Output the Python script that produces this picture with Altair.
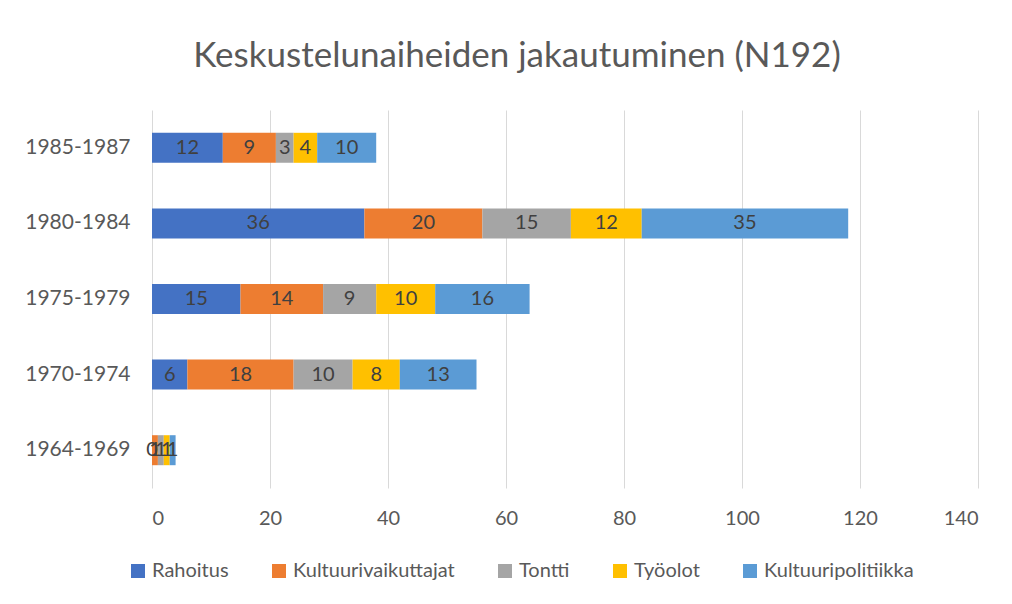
import altair as alt
import pandas as pd

periods = ["1985-1987", "1980-1984", "1975-1979", "1970-1974", "1964-1969"]
series = ["Rahoitus", "Kultuurivaikuttajat", "Tontti", "Työolot", "Kultuuripolitiikka"]
colors = ["#4472C4", "#ED7D31", "#A5A5A5", "#FFC000", "#5B9BD5"]
values = {
    "Rahoitus":            [12, 36, 15, 6, 0],
    "Kultuurivaikuttajat": [9, 20, 14, 18, 1],
    "Tontti":              [3, 15, 9, 10, 1],
    "Työolot":             [4, 12, 10, 8, 1],
    "Kultuuripolitiikka":  [10, 35, 16, 13, 1],
}

rows = []
for si, s in enumerate(series):
    for pi, p in enumerate(periods):
        rows.append({"period": p, "series": s, "value": values[s][pi], "order": si})
df = pd.DataFrame(rows)

font = "Lato"

bars = alt.Chart(df).mark_bar(size=30).encode(
    y=alt.Y("period:N", sort=periods, title=None,
            axis=alt.Axis(labelFontSize=21, labelColor="#595959", labelFont=font,
                          ticks=False, domain=False, labelPadding=22)),
    x=alt.X("sum(value):Q", stack="zero", title=None,
            scale=alt.Scale(domain=[0, 140], nice=False),
            axis=alt.Axis(values=list(range(0, 141, 20)), labelFontSize=20,
                          labelColor="#595959", labelFont=font, ticks=False,
                          domain=False, gridColor="#D9D9D9", labelPadding=20)),
    color=alt.Color("series:N", sort=series,
                    scale=alt.Scale(domain=series, range=colors),
                    legend=alt.Legend(title=None, orient="none", direction="horizontal",
                                      legendX=-24, legendY=451, symbolType="square",
                                      symbolSize=196, labelFontSize=20, labelFont=font,
                                      labelColor="#595959", columnPadding=40,
                                      labelLimit=400, symbolStrokeWidth=0,
                                      labelOffset=4)),
    order=alt.Order("order:Q"),
)

labels = alt.Chart(df).transform_stack(
    stack="value", groupby=["period"], as_=["v0", "v1"],
    sort=[alt.SortField("order", "ascending")]
).transform_calculate(mid="(datum.v0 + datum.v1) / 2").mark_text(
    fontSize=20, font=font, color="#404040"
).encode(
    y=alt.Y("period:N", sort=periods),
    x=alt.X("mid:Q"),
    text="value:Q",
)

chart = alt.layer(bars, labels).properties(
    width=826, height=378,
    autosize=alt.AutoSizeParams(type="none"),
    padding={"left": 144, "top": 102, "right": 20, "bottom": 110},
    background="white",
    title=alt.TitleParams("Keskustelunaiheiden jakautuminen (N192)", fontSize=35,
                          font=font, fontWeight="normal", color="#595959",
                          offset=36, dx=-48),
).configure_view(stroke=None)

chart.save("out.html", embed_options={"renderer": "svg", "actions": False})
